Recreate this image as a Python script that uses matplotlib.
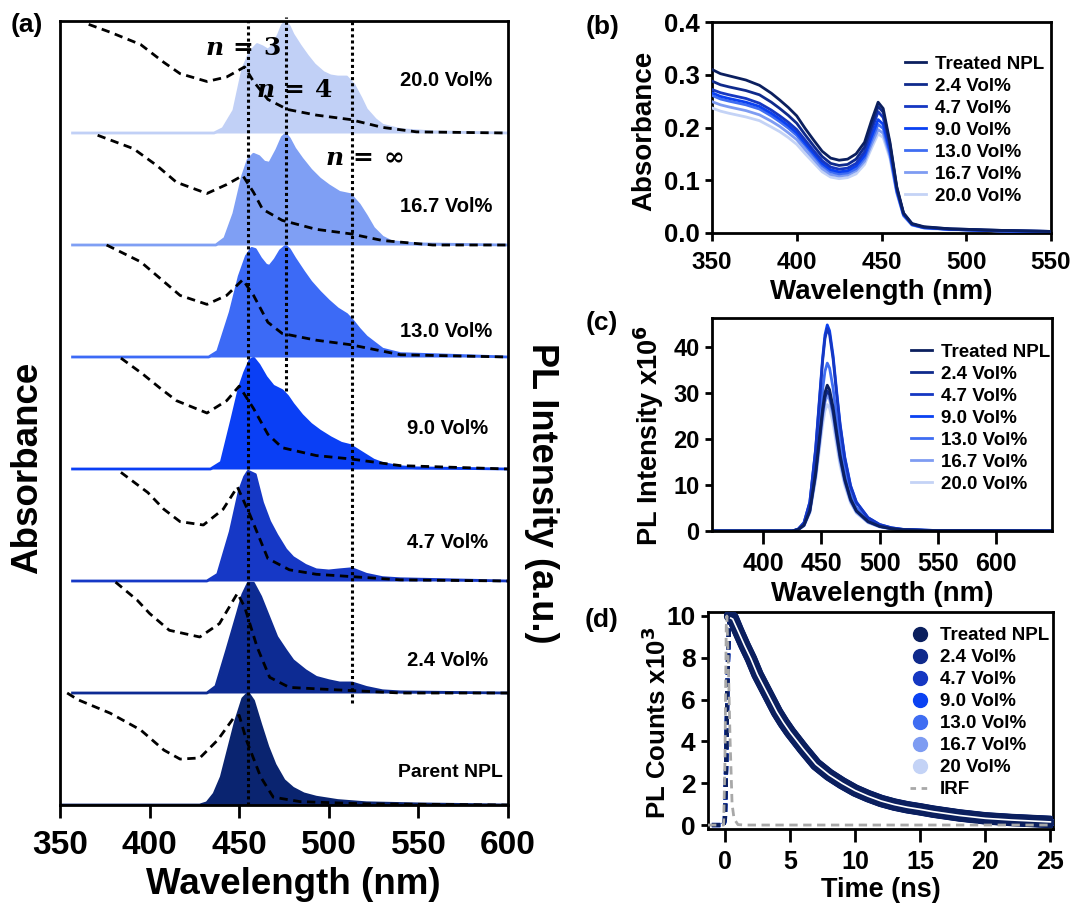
import numpy as np
import matplotlib
matplotlib.use("Agg")
import matplotlib.pyplot as plt
from matplotlib.lines import Line2D

plt.rcParams['font.family'] = ['Liberation Sans', 'DejaVu Sans']
plt.rcParams['font.weight'] = 'bold'
plt.rcParams['axes.labelweight'] = 'bold'
plt.rcParams['mathtext.default'] = 'bf'

# ---------------- data ----------------
labels = ['Treated NPL', '2.4 Vol%', '4.7 Vol%', '9.0 Vol%', '13.0 Vol%', '16.7 Vol%', '20.0 Vol%']
stack_labels = ['Parent NPL', '2.4 Vol%', '4.7 Vol%', '9.0 Vol%', '13.0 Vol%', '16.7 Vol%', '20.0 Vol%']
line_colors = ['#0b1f5e', '#0f2a8c', '#1537c2', '#0a41f2', '#3f6df2', '#7e9cf2', '#c4d3f6']
fill_colors = ['#0a2470', '#0d2b93', '#1638c6', '#0a3ff5', '#3c6af6', '#7f9ff4', '#c1d0f6']

# (a) normalised PL spectra (wavelength, height above own baseline)
pl_wl = [
    [350, 428, 432, 436, 440, 444, 448, 452, 455, 458, 462, 466, 470, 475, 480, 486, 493, 505, 521, 550, 600],
    [357, 432, 437, 443, 449, 452, 455, 458, 462, 466, 471, 476, 480, 487, 493, 500, 506, 513, 521, 530, 540, 600],
    [357, 432, 438, 445, 450, 453, 455, 459, 463, 467, 471, 476, 480, 487, 493, 500, 506, 513, 521, 530, 540, 600],
    [357, 434, 440, 446, 450, 453, 456, 458, 461, 465, 469, 474, 477, 480, 485, 490, 495, 501, 507, 512, 519, 525,
     530, 540, 549, 600],
    [357, 433, 438, 445, 450, 454, 457, 459, 462, 465, 467, 470, 473, 476, 478, 481, 486, 490, 495, 500, 505, 510,
     513, 517, 521, 530, 540, 600],
    [357, 437, 442, 447, 452, 455, 458, 461, 464, 467, 471, 474, 476, 478, 481, 485, 490, 495, 500, 506, 512, 517,
     521, 525, 530, 535, 549, 600],
    [357, 436, 441, 447, 452, 456, 460, 463, 466, 469, 472, 474, 476, 478, 480, 484, 488, 492, 497, 501, 505, 510,
     514, 518, 521, 526, 530, 540, 558, 600],
]
pl_val = [
    [0, 0, 0.02, 0.10, 0.25, 0.50, 0.75, 0.95, 1.0, 0.93, 0.72, 0.52, 0.36, 0.22, 0.15, 0.10, 0.07, 0.04, 0.02, 0.01, 0],
    [0, 0, 0.06, 0.38, 0.71, 0.88, 0.98, 0.98, 0.86, 0.70, 0.50, 0.38, 0.29, 0.20, 0.14, 0.11, 0.09, 0.09, 0.05, 0.02,
     0.01, 0],
    [0, 0, 0.06, 0.44, 0.80, 0.93, 0.98, 0.95, 0.70, 0.53, 0.41, 0.28, 0.21, 0.14, 0.10, 0.09, 0.10, 0.11, 0.06, 0.03,
     0.02, 0],
    [0, 0, 0.06, 0.45, 0.72, 0.86, 0.97, 0.99, 0.93, 0.82, 0.74, 0.70, 0.65, 0.58, 0.48, 0.40, 0.34, 0.28, 0.23, 0.21,
     0.14, 0.08, 0.05, 0.02, 0.01, 0],
    [0, 0, 0.05, 0.40, 0.72, 0.90, 0.97, 0.96, 0.88, 0.82, 0.81, 0.87, 0.95, 0.99, 0.96, 0.88, 0.76, 0.67, 0.58, 0.50,
     0.43, 0.38, 0.33, 0.25, 0.18, 0.07, 0.03, 0],
    [0, 0, 0.06, 0.28, 0.62, 0.76, 0.81, 0.79, 0.74, 0.73, 0.85, 0.96, 0.99, 0.95, 0.86, 0.77, 0.67, 0.59, 0.53, 0.47,
     0.45, 0.36, 0.26, 0.15, 0.07, 0.03, 0.01, 0],
    [0, 0, 0.04, 0.20, 0.57, 0.72, 0.79, 0.77, 0.74, 0.78, 0.88, 0.96, 0.99, 0.95, 0.88, 0.78, 0.69, 0.61, 0.54, 0.51,
     0.50, 0.50, 0.43, 0.31, 0.21, 0.12, 0.07, 0.03, 0.01, 0],
]

# (a) absorbance traces (dashed), same order
abs_wl = [
    [354, 360, 378, 395, 408, 417, 428, 438, 447, 450, 454, 462, 469, 484, 521, 600],
    [381, 393, 400, 411, 428, 439, 449, 453, 460, 467, 478, 502, 540, 600],
    [384, 399, 408, 417, 430, 441, 449, 456, 466, 478, 493, 512, 540, 600],
    [384, 396, 406, 415, 432, 443, 450, 458, 466, 474, 493, 512, 540, 600],
    [376, 395, 406, 417, 432, 443, 452, 458, 466, 474, 493, 512, 540, 600],
    [371, 391, 404, 415, 432, 443, 452, 458, 463, 474, 493, 512, 530, 558, 600],
    [366, 378, 395, 408, 417, 432, 443, 453, 458, 466, 477, 493, 512, 530, 549, 600],
]
abs_val = [
    [1.0, 0.94, 0.82, 0.67, 0.49, 0.41, 0.42, 0.58, 0.78, 0.80, 0.58, 0.25, 0.07, 0.03, 0.01, 0.0],
    [0.99, 0.83, 0.71, 0.56, 0.50, 0.62, 0.89, 0.77, 0.41, 0.14, 0.05, 0.03, 0.0, 0.0],
    [0.97, 0.79, 0.64, 0.53, 0.50, 0.64, 0.84, 0.59, 0.20, 0.10, 0.06, 0.04, 0.01, 0.0],
    [0.99, 0.85, 0.72, 0.61, 0.50, 0.61, 0.74, 0.54, 0.31, 0.19, 0.12, 0.09, 0.03, 0.0],
    [1.0, 0.85, 0.70, 0.55, 0.47, 0.55, 0.69, 0.55, 0.31, 0.21, 0.15, 0.11, 0.02, 0.0],
    [0.98, 0.86, 0.71, 0.56, 0.46, 0.54, 0.62, 0.47, 0.32, 0.22, 0.14, 0.10, 0.04, 0.0, 0.0],
    [0.97, 0.90, 0.79, 0.63, 0.53, 0.46, 0.50, 0.59, 0.46, 0.30, 0.21, 0.16, 0.12, 0.05, 0.01, 0.0],
]

# exciton lines n=3, n=4, n=inf
exc_wl = [455, 476, 513]
exc_ymin = [0.0, 3.7, 0.91]
exc_ymax = [7.0, 7.04, 7.0]

# (b) absorbance
b_wl = [350, 355, 360, 370, 378, 385, 390, 395, 400, 405, 410, 415, 420, 425, 430, 435, 440, 444, 448, 451, 455,
        459, 463, 468, 475, 490, 520, 550]
b_abs = [
    [0.310, 0.302, 0.298, 0.290, 0.280, 0.265, 0.252, 0.238, 0.222, 0.198, 0.176, 0.155, 0.142, 0.138, 0.140, 0.150,
     0.172, 0.212, 0.248, 0.236, 0.172, 0.088, 0.038, 0.018, 0.012, 0.008, 0.005, 0.003],
    [0.288, 0.281, 0.277, 0.270, 0.262, 0.248, 0.236, 0.223, 0.208, 0.186, 0.165, 0.145, 0.132, 0.128, 0.130, 0.140,
     0.163, 0.202, 0.240, 0.229, 0.168, 0.086, 0.037, 0.017, 0.011, 0.008, 0.005, 0.003],
    [0.272, 0.266, 0.262, 0.255, 0.246, 0.233, 0.222, 0.210, 0.196, 0.176, 0.156, 0.137, 0.125, 0.121, 0.123, 0.132,
     0.154, 0.193, 0.230, 0.219, 0.163, 0.084, 0.036, 0.017, 0.011, 0.007, 0.004, 0.003],
    [0.266, 0.259, 0.255, 0.248, 0.240, 0.227, 0.216, 0.204, 0.190, 0.170, 0.151, 0.132, 0.120, 0.116, 0.118, 0.127,
     0.147, 0.182, 0.215, 0.206, 0.156, 0.081, 0.035, 0.016, 0.010, 0.007, 0.004, 0.003],
    [0.261, 0.254, 0.250, 0.243, 0.235, 0.222, 0.211, 0.199, 0.185, 0.166, 0.147, 0.128, 0.116, 0.112, 0.114, 0.122,
     0.142, 0.175, 0.206, 0.198, 0.151, 0.079, 0.034, 0.016, 0.010, 0.007, 0.004, 0.002],
    [0.249, 0.243, 0.239, 0.232, 0.224, 0.212, 0.202, 0.190, 0.177, 0.158, 0.140, 0.122, 0.111, 0.108, 0.110, 0.118,
     0.136, 0.167, 0.196, 0.189, 0.146, 0.077, 0.033, 0.015, 0.010, 0.007, 0.004, 0.002],
    [0.237, 0.231, 0.227, 0.220, 0.213, 0.201, 0.192, 0.181, 0.168, 0.150, 0.133, 0.116, 0.106, 0.103, 0.105, 0.112,
     0.130, 0.160, 0.188, 0.181, 0.141, 0.075, 0.032, 0.015, 0.009, 0.006, 0.004, 0.002],
]

# (c) PL intensity (x10^6)
c_wl = [355, 425, 430, 435, 440, 445, 448, 451, 453, 455, 457, 460, 463, 466, 470, 475, 480, 490, 500, 510, 520,
        550, 650]
c_pl = [
    [0, 0, 0.3, 1.3, 4.4, 12.7, 19.7, 26.6, 30.1, 31.7, 30.7, 26.9, 21.6, 16.5, 11.4, 7.0, 4.4, 2.1, 1.0, 0.5, 0.25,
     0.06, 0],
    [0, 0, 0.3, 1.2, 4.3, 12.2, 18.9, 25.6, 29.0, 30.5, 29.6, 25.9, 20.7, 15.9, 11.0, 6.7, 4.3, 2.0, 1.0, 0.5, 0.24,
     0.06, 0],
    [0, 0, 0.4, 1.8, 6.2, 17.6, 27.3, 37.0, 41.8, 44.0, 42.7, 37.4, 29.9, 22.9, 15.8, 9.7, 6.2, 2.9, 1.4, 0.7, 0.35,
     0.09, 0],
    [0, 0, 0.4, 1.8, 6.3, 17.9, 27.8, 37.6, 42.6, 44.8, 43.5, 38.1, 30.5, 23.3, 16.1, 9.9, 6.3, 2.9, 1.4, 0.7, 0.36,
     0.09, 0],
    [0, 0, 0.4, 1.5, 5.1, 14.6, 22.6, 30.7, 34.7, 36.5, 35.4, 31.0, 24.8, 19.0, 13.1, 8.0, 5.1, 2.4, 1.2, 0.6, 0.29,
     0.07, 0],
    [0, 0, 0.3, 1.2, 4.1, 11.8, 18.3, 24.8, 28.0, 29.5, 28.6, 25.1, 20.1, 15.3, 10.6, 6.5, 4.1, 1.9, 0.9, 0.5, 0.24,
     0.06, 0],
    [0, 0, 0.3, 1.1, 3.9, 11.0, 17.1, 23.1, 26.1, 27.5, 26.7, 23.4, 18.7, 14.3, 9.9, 6.1, 3.9, 1.8, 0.9, 0.4, 0.22,
     0.06, 0],
]

# (d) TRPL decay (x10^3), all samples overlap
rise_time = [-1.0, -0.1, 0.0, 0.1, 0.2, 0.3, 0.4]
rise_counts = [0.0, 0.0, 0.3, 3.0, 7.0, 9.4, 10.0]
d_time = [0.4, 0.6, 1.0, 1.5, 2.0, 2.5, 3.0, 3.5, 4.0, 4.5, 5.0, 6.0, 7.0, 8.0, 9.0, 10.0, 11.0, 12.0, 13.0,
          14.0, 15.0, 16.0, 18.0, 20.0, 22.0, 25.0]
d_counts = [10.0, 9.9, 9.3, 8.6, 7.95, 7.2, 6.6, 6.0, 5.4, 4.9, 4.45, 3.65, 2.9, 2.4, 2.0, 1.65, 1.38, 1.15,
            0.98, 0.85, 0.75, 0.64, 0.46, 0.32, 0.24, 0.15]
fit_time = [0.45, 0.6, 1.0, 1.5, 2.0, 2.5, 3.0, 3.5, 4.0, 4.5, 5.0, 6.0, 7.0, 8.0, 9.0, 10.0, 11.0, 12.0, 13.0,
            14.0, 15.0, 16.0, 18.0, 20.0, 22.0, 25.0]
fit_counts = [9.9, 9.85, 9.3, 8.6, 7.95, 7.2, 6.6, 6.0, 5.4, 4.9, 4.45, 3.65, 2.9, 2.4, 2.0, 1.65, 1.38, 1.15,
              0.98, 0.85, 0.75, 0.64, 0.46, 0.32, 0.24, 0.15]
irf_time = [-1.3, -0.1, 0.0, 0.1, 0.15, 0.25, 0.4, 0.55, 0.7, 1.0, 1.5, 25.2]
irf_counts = [0, 0, 3.0, 9.5, 10.0, 8.0, 4.0, 1.0, 0.3, 0.02, 0, 0]
d_labels = ['Treated NPL', '2.4 Vol%', '4.7 Vol%', '9.0 Vol%', '13.0 Vol%', '16.7 Vol%', '20 Vol%']

# ---------------- figure ----------------
W, H = 1075, 907
fig = plt.figure(figsize=(W / 100, H / 100), dpi=100)


def box(l, r, t, b):
    return [l / W, 1 - b / H, (r - l) / W, (b - t) / H]


ax_a = fig.add_axes(box(60, 508, 21, 805))
ax_b = fig.add_axes(box(712, 1051, 22, 233))
ax_c = fig.add_axes(box(712, 1052, 318, 531))
ax_d = fig.add_axes(box(708, 1053, 612, 829))

for ax in (ax_a, ax_b, ax_c, ax_d):
    for s in ax.spines.values():
        s.set_linewidth(2)

# ----- (a) -----
for i in range(7):
    wl = np.array(pl_wl[i])
    v = np.array(pl_val[i])
    ax_a.fill_between(wl, i, i + v, color=fill_colors[i], lw=0, zorder=2)
    ax_a.plot(wl, i + v, color=fill_colors[i], lw=2, zorder=2)
    ax_a.plot(abs_wl[i], i + np.array(abs_val[i]), color='black', lw=2, ls=(0, (3, 2)), zorder=4)

for x, y0, y1 in zip(exc_wl, exc_ymin, exc_ymax):
    ax_a.vlines(x, y0, y1, color='black', lw=2.2, linestyles=(0, (1, 1)), zorder=5, clip_on=False)

label_pos_a = [(597, 0.29), (589, 1.29), (589, 2.34), (589, 3.36), (591, 4.23), (591.5, 5.34), (591, 6.47)]
for i, (x, y) in enumerate(label_pos_a):
    ax_a.text(x, y, stack_labels[i], ha='right', va='center', fontsize=14 if i == 0 else 14.5, zorder=6)

nkw = dict(ha='center', va='center', fontsize=18, math_fontfamily='dejavuserif', zorder=6)
ax_a.text(452, 6.76, r'$\mathbfit{n}\,\mathbf{=}\,\mathbf{3}$', **nkw)
ax_a.text(480.6, 6.38, r'$\mathbfit{n}\,\mathbf{=}\,\mathbf{4}$', **nkw)
ax_a.text(520, 5.78, r'$\mathbfit{n}\,\mathbf{=}\,\infty$', **nkw)

ax_a.set_xlim(350, 600)
ax_a.set_ylim(0, 7)
ax_a.set_yticks([])
ax_a.set_xticks([350, 400, 450, 500, 550, 600])
ax_a.tick_params(axis='x', direction='out', length=9, width=2, labelsize=24, pad=9)
ax_a.set_xlabel('Wavelength (nm)', fontsize=26.5)
ax_a.xaxis.set_label_coords(0.52, -0.079)
fig.text(28 / W, 1 - 468 / H, 'Absorbance', rotation=90, ha='center', va='center', fontsize=26.5)
fig.text(541 / W, 1 - 493 / H, 'PL Intensity (a.u.)', rotation=-90, ha='center', va='center', fontsize=26)

# ----- (b) -----
for i in range(7):
    ax_b.plot(b_wl, b_abs[i], color=line_colors[i], lw=2, zorder=10 - i)
ax_b.set_xlim(350, 550)
ax_b.set_ylim(0, 0.4)
ax_b.set_xticks([350, 400, 450, 500, 550])
ax_b.set_yticks([0.0, 0.1, 0.2, 0.3, 0.4])
ax_b.set_yticklabels(['0.0', '0.1', '0.2', '0.3', '0.4'])
ax_b.tick_params(axis='x', direction='out', length=6, width=2, labelsize=17.5, pad=7)
ax_b.tick_params(axis='y', direction='out', length=5, width=2, labelsize=18.5, pad=4)
ax_b.set_xlabel('Wavelength (nm)', fontsize=20)
ax_b.xaxis.set_label_coords(0.5, -0.22)
ax_b.set_ylabel('Absorbance', fontsize=20)
ax_b.yaxis.set_label_coords(-0.16, 0.483)

# ----- (c) -----
for i in range(6, -1, -1):
    ax_c.plot(c_wl, c_pl[i], color=line_colors[i], lw=2)
ax_c.set_xlim(356, 648)
ax_c.set_ylim(0, 46.3)
ax_c.set_xticks([400, 450, 500, 550, 600])
ax_c.set_yticks([0, 10, 20, 30, 40])
ax_c.tick_params(axis='x', direction='out', length=9, width=2, labelsize=18, pad=6)
ax_c.tick_params(axis='y', direction='out', length=5, width=2, labelsize=17, pad=4)
ax_c.set_xlabel('Wavelength (nm)', fontsize=20)
ax_c.xaxis.set_label_coords(0.5, -0.235)
ax_c.set_ylabel(r'PL Intensity x10$^{6}$', fontsize=19.5)
ax_c.yaxis.set_label_coords(-0.136, 0.45)

# ----- (d) -----
for i in range(6, -1, -1):
    ax_d.plot(rise_time, rise_counts, color=line_colors[i], lw=3, ls=(0, (2, 1)), zorder=3 + (6 - i))
    ax_d.plot(d_time, d_counts, color=line_colors[i], lw=9 - i * 0.3, marker='o', ms=5,
              solid_capstyle='round', zorder=3 + (6 - i))
ax_d.plot(fit_time, fit_counts, color='white', lw=1.2, zorder=12)
ax_d.plot(irf_time, irf_counts, color='#a8a8a8', lw=2, ls=(0, (3, 2)), zorder=13)
ax_d.set_xlim(-1.3, 25.2)
ax_d.set_ylim(-0.19, 10.19)
ax_d.set_xticks([0, 5, 10, 15, 20, 25])
ax_d.set_yticks([0, 2, 4, 6, 8, 10])
ax_d.tick_params(axis='x', direction='out', length=9, width=2, labelsize=18, pad=6)
ax_d.tick_params(axis='y', direction='out', length=5, width=2, labelsize=19, pad=4)
ax_d.set_xlabel('Time (ns)', fontsize=19.5)
ax_d.xaxis.set_label_coords(0.5, -0.222)
ax_d.set_ylabel(r'PL Counts x10$^{3}$', fontsize=18.5)
ax_d.yaxis.set_label_coords(-0.107, 0.49)

# ----- legends -----
leg_kw = dict(frameon=False, fontsize=13.5, borderpad=0, borderaxespad=0, labelspacing=0.26,
              handletextpad=0.5, loc='upper left')
hb = [Line2D([], [], color=c, lw=2) for c in line_colors]
ax_b.legend(hb, labels, handlelength=1.1, bbox_to_anchor=(0.57, 0.84), **leg_kw)
ax_c.legend(hb, labels, handlelength=1.1, bbox_to_anchor=(0.585, 0.88), **leg_kw)
hd = [Line2D([], [], color=c, lw=0, marker='o', ms=10) for c in line_colors]
hd.append(Line2D([], [], color='#a8a8a8', lw=2, ls=(0, (2, 2))))
ax_d.legend(hd, d_labels + ['IRF'], handlelength=1.1, bbox_to_anchor=(0.585, 0.93), **leg_kw)

# panel tags
for txt, x, y in [('(a)', 27, 25), ('(b)', 603, 27), ('(c)', 602, 323), ('(d)', 602, 620)]:
    fig.text(x / W, 1 - y / H, txt, ha='center', va='center', fontsize=19)

fig.savefig('out.png', dpi=100)
